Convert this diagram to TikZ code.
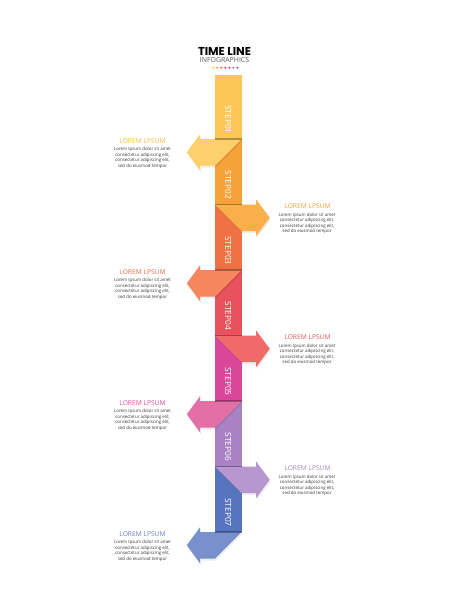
\documentclass[tikz,border=0pt]{standalone}
\usepackage{fontspec}
\setmainfont{Open Sans}
\newfontfamily\titlefont{Poppins}

\definecolor{barA}{HTML}{FDC757}
\definecolor{barB}{HTML}{F6A23A}
\definecolor{barC}{HTML}{F07244}
\definecolor{barD}{HTML}{E8525C}
\definecolor{barE}{HTML}{D8479A}
\definecolor{barF}{HTML}{A982C3}
\definecolor{barG}{HTML}{5675BE}
\definecolor{arrA}{HTML}{FDD069}
\definecolor{arrB}{HTML}{F8AF4C}
\definecolor{arrC}{HTML}{F5875F}
\definecolor{arrD}{HTML}{EE6B6A}
\definecolor{arrE}{HTML}{E46FA6}
\definecolor{arrF}{HTML}{B896D0}
\definecolor{arrG}{HTML}{7890CC}
\definecolor{bodygray}{HTML}{3A3A3A}

\tikzset{every picture/.style={line width=0.75pt}}
\tikzset{
  steplabel/.style={text=white, font=\fontsize{6.3}{7}\selectfont, rotate=-90, inner sep=0pt},
  headtext/.style={font=\fontsize{5}{6}\selectfont, inner sep=0pt},
  bodytext/.style={text=bodygray, font=\fontsize{3.3}{4.1}\selectfont, align=center, inner sep=0pt},
  foldline/.style={draw=black, draw opacity=0.3, line width=0.8pt},
  arrowshadow/.style={fill=black, fill opacity=0.07, draw=none},
}

\begin{document}
\begin{tikzpicture}[x=0.75pt,y=0.75pt,yscale=-1,xscale=1]
	\useasboundingbox (0,0) rectangle (450,600);
	\fill[white] (0,0) rectangle (450,600);

	% Text Node
	\draw (224.5,51) node (title) {\titlefont\bfseries\fontsize{8.6}{10}\selectfont TIME LINE};
	% Text Node
	\draw (224.5,60.5) node [text={rgb,255:red,90;green,90;blue,90}, font=\fontsize{5.2}{6}\selectfont, inner sep=0pt] (subtitle) {INFOGRAPHICS};

	%Shape: Circles
	\fill [barA] (213.3,67.7) circle [radius=1.2];
	\fill [barB] (217.3,67.7) circle [radius=1.2];
	\fill [barC] (221.3,67.7) circle [radius=1.2];
	\fill [barD] (225.3,67.7) circle [radius=1.2];
	\fill [barE] (229.3,67.7) circle [radius=1.2];
	\fill [barF] (233.3,67.7) circle [radius=1.2];
	\fill [barG] (237.3,67.7) circle [radius=1.2];

	%Shape: Rectangle [bars]
	\fill [barA] (215,75) rectangle (241.5,139);
	\fill [barB] (215,139) rectangle (241.5,204.5);
	\fill [barC] (215,204.5) rectangle (241.5,270);
	\fill [barD] (215,270) rectangle (241.5,335.5);
	\fill [barE] (215,335.5) rectangle (241.5,401);
	\fill [barF] (215,401) rectangle (241.5,466.5);
	\fill [barG] (215,466.5) rectangle (241.5,532);

	%Shape: Polygon [step 01, left]
	\path [arrowshadow] (242.5,141) -- (201.2,141) -- (201.2,136) -- (187.8,154.25) -- (201.2,172.5) -- (201.2,167.5) -- (216,167.5) -- cycle;
	\fill [arrA] (241.5,139) -- (200.2,139) -- (200.2,134) -- (186.8,152.25) -- (200.2,170.5) -- (200.2,165.5) -- (215,165.5) -- cycle;
	\draw [foldline] (215,139) -- (241.5,139);
	%Shape: Polygon [step 02, right]
	\path [arrowshadow] (216,206.5) -- (257.2,206.5) -- (257.2,201.5) -- (270.7,219.75) -- (257.2,238) -- (257.2,233) -- (242.5,233) -- cycle;
	\fill [arrB] (215,204.5) -- (256.2,204.5) -- (256.2,199.5) -- (269.7,217.75) -- (256.2,236) -- (256.2,231) -- (241.5,231) -- cycle;
	\draw [foldline] (215,204.5) -- (241.5,204.5);
	%Shape: Polygon [step 03, left]
	\path [arrowshadow] (242.5,272) -- (201.2,272) -- (201.2,267) -- (187.8,285.25) -- (201.2,303.5) -- (201.2,298.5) -- (216,298.5) -- cycle;
	\fill [arrC] (241.5,270) -- (200.2,270) -- (200.2,265) -- (186.8,283.25) -- (200.2,301.5) -- (200.2,296.5) -- (215,296.5) -- cycle;
	\draw [foldline] (215,270) -- (241.5,270);
	%Shape: Polygon [step 04, right]
	\path [arrowshadow] (216,337.5) -- (257.2,337.5) -- (257.2,332.5) -- (270.7,350.75) -- (257.2,369) -- (257.2,364) -- (242.5,364) -- cycle;
	\fill [arrD] (215,335.5) -- (256.2,335.5) -- (256.2,330.5) -- (269.7,348.75) -- (256.2,367) -- (256.2,362) -- (241.5,362) -- cycle;
	\draw [foldline] (215,335.5) -- (241.5,335.5);
	%Shape: Polygon [step 05, left]
	\path [arrowshadow] (242.5,403) -- (201.2,403) -- (201.2,398) -- (187.8,416.25) -- (201.2,434.5) -- (201.2,429.5) -- (216,429.5) -- cycle;
	\fill [arrE] (241.5,401) -- (200.2,401) -- (200.2,396) -- (186.8,414.25) -- (200.2,432.5) -- (200.2,427.5) -- (215,427.5) -- cycle;
	\draw [foldline] (215,401) -- (241.5,401);
	%Shape: Polygon [step 06, right]
	\path [arrowshadow] (216,468.5) -- (257.2,468.5) -- (257.2,463.5) -- (270.7,481.75) -- (257.2,500) -- (257.2,495) -- (242.5,495) -- cycle;
	\fill [arrF] (215,466.5) -- (256.2,466.5) -- (256.2,461.5) -- (269.7,479.75) -- (256.2,498) -- (256.2,493) -- (241.5,493) -- cycle;
	\draw [foldline] (215,466.5) -- (241.5,466.5);
	%Shape: Polygon [step 07, left]
	\path [arrowshadow] (242.5,534) -- (201.2,534) -- (201.2,529) -- (187.8,547.25) -- (201.2,565.5) -- (201.2,560.5) -- (216,560.5) -- cycle;
	\fill [arrG] (241.5,532) -- (200.2,532) -- (200.2,527) -- (186.8,545.25) -- (200.2,563.5) -- (200.2,558.5) -- (215,558.5) -- cycle;
	\draw [foldline] (215,532) -- (241.5,532);

	% Text Node
	\draw (228.25,119.5) node [steplabel] (step01) {STEP01};
	% Text Node
	\draw (228.25,185) node [steplabel] (step02) {STEP02};
	% Text Node
	\draw (228.25,250.5) node [steplabel] (step03) {STEP03};
	% Text Node
	\draw (228.25,316) node [steplabel] (step04) {STEP04};
	% Text Node
	\draw (228.25,381.5) node [steplabel] (step05) {STEP05};
	% Text Node
	\draw (228.25,447) node [steplabel] (step06) {STEP06};
	% Text Node
	\draw (228.25,512.5) node [steplabel] (step07) {STEP07};

	% Text Node
	\draw (142.5,141) node [headtext, text={rgb,255:red,249;green,185;blue,60}] (head01) {LOREM LPSUM};
	\draw (142.5,157.75) node [bodytext] (body01) {Lorem Ipsum dolor sit amet\\consectetur adipiscing elit,\\consectetur adipiscing elit,\\sed do eiusmod tempor};
	% Text Node
	\draw (307.5,206.5) node [headtext, text={rgb,255:red,243;green,162;blue,58}] (head02) {LOREM LPSUM};
	\draw (307,223.25) node [bodytext] (body02) {Lorem Ipsum dolor sit amet\\consectetur adipiscing elit,\\consectetur adipiscing elit,\\sed do eiusmod tempor};
	% Text Node
	\draw (142.5,272) node [headtext, text={rgb,255:red,238;green,106;blue,69}] (head03) {LOREM LPSUM};
	\draw (142.5,288.75) node [bodytext] (body03) {Lorem Ipsum dolor sit amet\\consectetur adipiscing elit,\\consectetur adipiscing elit,\\sed do eiusmod tempor};
	% Text Node
	\draw (307.5,337.5) node [headtext, text={rgb,255:red,229;green,88;blue,94}] (head04) {LOREM LPSUM};
	\draw (307,354.25) node [bodytext] (body04) {Lorem Ipsum dolor sit amet\\consectetur adipiscing elit,\\consectetur adipiscing elit,\\sed do eiusmod tempor};
	% Text Node
	\draw (142.5,403) node [headtext, text={rgb,255:red,221;green,78;blue,153}] (head05) {LOREM LPSUM};
	\draw (142.5,419.75) node [bodytext] (body05) {Lorem Ipsum dolor sit amet\\consectetur adipiscing elit,\\consectetur adipiscing elit,\\sed do eiusmod tempor};
	% Text Node
	\draw (307.5,468.5) node [headtext, text={rgb,255:red,169;green,134;blue,200}] (head06) {LOREM LPSUM};
	\draw (307,485.25) node [bodytext] (body06) {Lorem Ipsum dolor sit amet\\consectetur adipiscing elit,\\consectetur adipiscing elit,\\sed do eiusmod tempor};
	% Text Node
	\draw (142.5,534) node [headtext, text={rgb,255:red,104;green,128;blue,196}] (head07) {LOREM LPSUM};
	\draw (142.5,550.75) node [bodytext] (body07) {Lorem Ipsum dolor sit amet\\consectetur adipiscing elit,\\consectetur adipiscing elit,\\sed do eiusmod tempor};

\end{tikzpicture}
\end{document}
